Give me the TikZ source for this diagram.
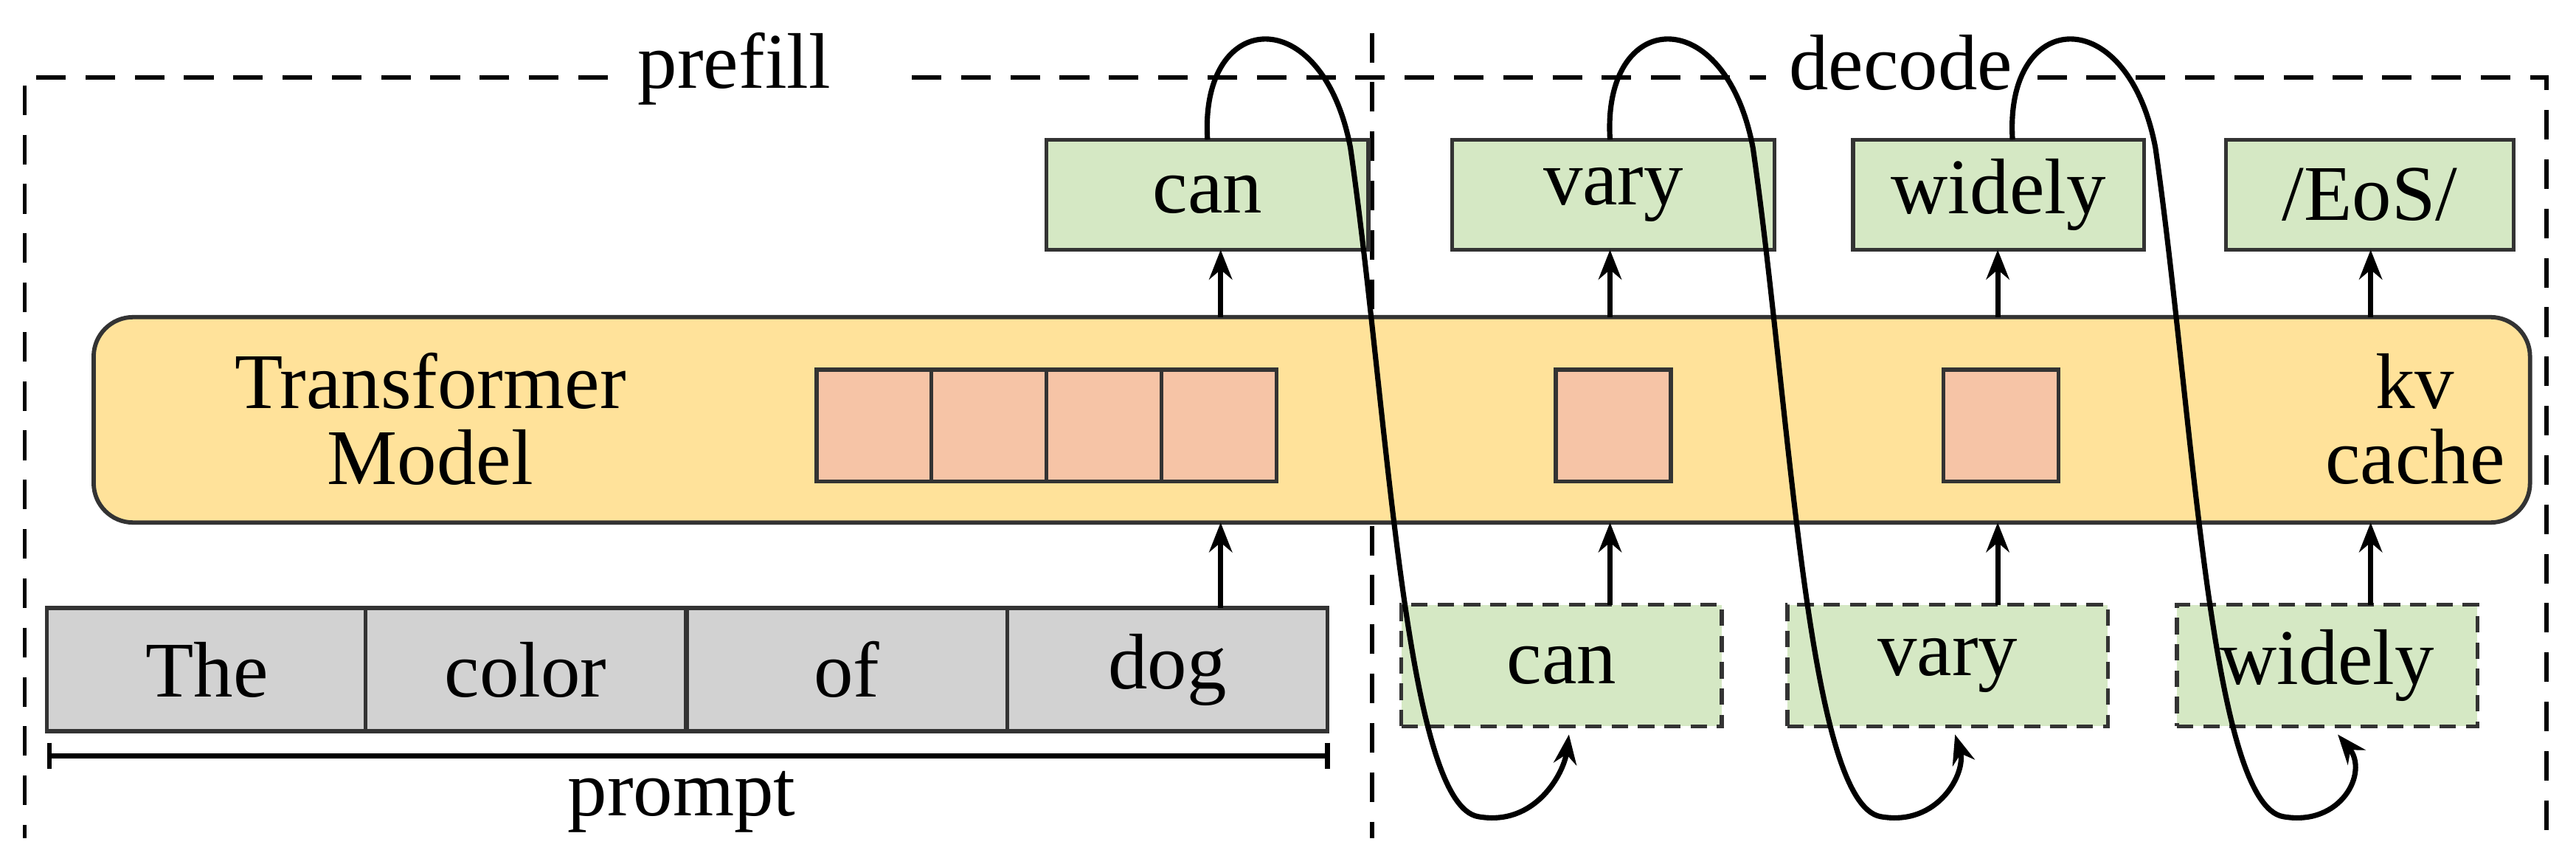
\documentclass[tikz,border=0pt]{standalone}
\usepackage{fontspec}
\setmainfont{Liberation Serif}
\usetikzlibrary{arrows.meta}
\begin{document}
\begin{tikzpicture}[x=0.5pt,y=-0.5pt,
  txt/.style={font=\fontsize{24}{27}\selectfont},
  gbox/.style={draw=black!80,line width=1.2pt,fill=green!15!lime!10!white,fill=gfill},
  pbox/.style={draw=black!80,line width=1.2pt,fill=gray!35},
  sq/.style={draw=black!80,line width=1.2pt,fill=salmon},
  arr/.style={-{Stealth[length=9pt,width=7pt]},line width=1.6pt},
  loop/.style={-{Stealth[length=9pt,width=7pt]},line width=1.6pt},
  dsh/.style={dash pattern=on 9pt off 6pt,line width=1.3pt}]
\definecolor{gfill}{HTML}{D5E8C4}
\definecolor{salmon}{HTML}{F6C4A6}
\definecolor{yel}{HTML}{FFE29A}
\useasboundingbox (0,0) rectangle (1568,517);
% dashed frames
\draw[dsh] (370,47) -- (15,47) -- (15,510);
\draw[dsh] (555,47) -- (1075,47);
\draw[dsh] (1240,47) -- (1550,47) -- (1550,510);
\draw[dsh] (835,20) -- (835,510);
\node[txt] (prefill) at (447,42) {prefill};
\node[txt] (decode) at (1157,38) {decode};
% transformer
\node[draw=black!80,line width=1.3pt,fill=yel,rounded corners=12pt,minimum width=741.5pt,minimum height=62.5pt,inner sep=0pt] (tm) at (798.5,255.5) {};
\node[txt,align=center] (tmt) at (262,255) {Transformer\\[-4pt]Model};
\node[txt,align=center] (kv) at (1470,255) {kv\\[-4pt]cache};
\foreach \x/\n in {532/s1,602/s2,672/s3,742/s4,982/s5,1218/s6}
  \node[sq,minimum width=35pt,minimum height=34pt,inner sep=0pt] (\n) at (\x,259) {};
% outputs
\foreach \x/\w/\t/\n in {735/98/can/o1,982/98/vary/o2,1216.5/88.5/widely/o3,1442.5/87.5/{/EoS/}/o4}
  \node[gbox,txt,minimum width=\w pt,minimum height=33.5pt,inner sep=0pt] (\n) at (\x,118.5) {\t};
\foreach \x/\n in {743/o1,980/o2,1216/o3,1443/o4}
  \draw[arr] (\x,193) -- (\x,152);
% prompt
\foreach \x/\t/\n in {126/The/p1,320/color/p2,515.5/of/p3,710.5/dog/p4}
  \node[pbox,txt,minimum width=97.5pt,minimum height=37.5pt,inner sep=0pt] (\n) at (\x,407.5) {\t};
\draw[arr] (743,370) -- (743,318);
\draw[line width=1.4pt] (30,452) -- (30,468) (808,452) -- (808,468) (30,460) -- (808,460);
\node[txt] (prompt) at (415,488) {prompt};
% decode inputs
\foreach \x/\w/\t/\n in {950.5/97.5/can/i1,1185.5/97.5/vary/i2,1416.5/91.5/widely/i3}
  \node[draw=black!80,dash pattern=on 5pt off 3pt,line width=1.2pt,fill=gfill,txt,minimum width=\w pt,minimum height=37pt,inner sep=0pt] (\n) at (\x,405) {\t};
\foreach \x in {980,1216,1443}
  \draw[arr] (\x,368) -- (\x,318);
% loops
\foreach \dx/\ex in {0/955,245/1190,490/1423}
  \draw[loop] (735+\dx,85) .. controls (730+\dx,5) and (805+\dx,0) .. (822+\dx,90)
     .. controls (845+\dx,250) and (855+\dx,490) .. (900+\dx,497)
     .. controls (935+\dx,503) and (952+\dx,470) .. (\ex,447);
\end{tikzpicture}
\end{document}
